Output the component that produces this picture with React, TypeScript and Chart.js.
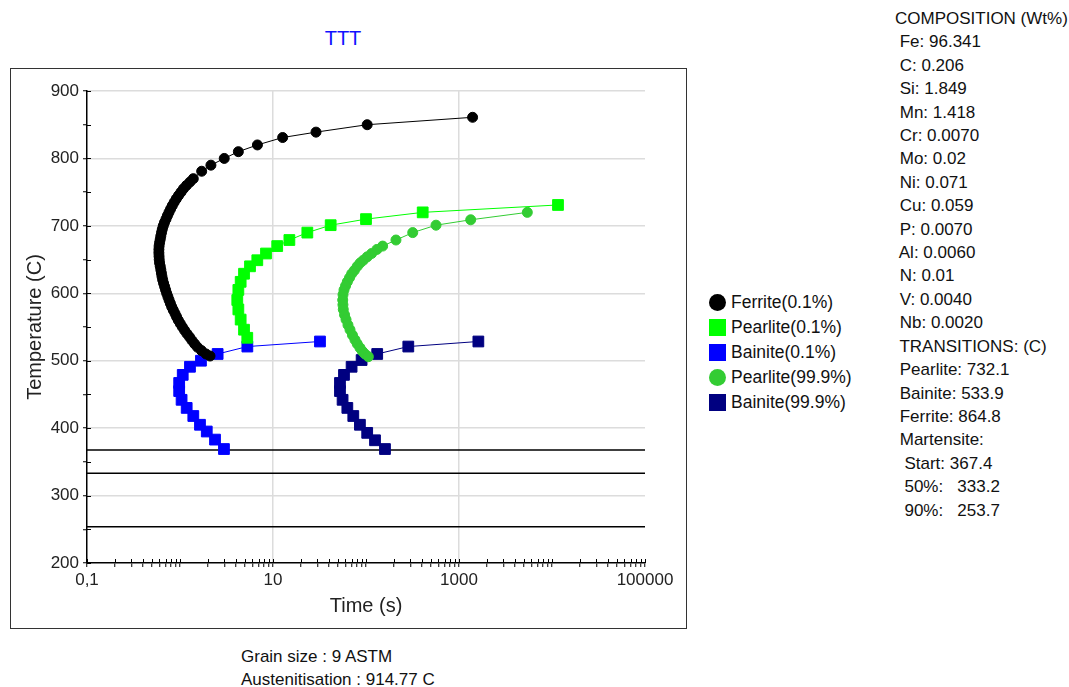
import React, { useEffect, useRef } from 'react';
import { Chart, registerables } from 'chart.js';

Chart.register(...registerables);

// ---------- data ----------
const ferriteTemp = [861, 850, 839, 831, 820, 810, 800, 790, 781, 770, 765, 760, 755, 750, 745, 740, 735, 730, 725, 720, 715, 710, 705, 700, 695, 690, 685, 680, 675, 670, 665, 660, 655, 650, 645, 640, 635, 630, 625, 620, 615, 610, 605, 600, 595, 590, 585, 580, 575, 570, 565, 560, 555, 550, 545, 540, 535, 530, 525, 520, 515, 510, 507];
const ferriteTime = [1400, 103, 29, 12.7, 6.8, 4.24, 2.99, 2.15, 1.71, 1.39, 1.28, 1.175, 1.09, 1.025, 0.964, 0.912, 0.866, 0.826, 0.792, 0.761, 0.732, 0.707, 0.681, 0.661, 0.645, 0.633, 0.622, 0.613, 0.603, 0.596, 0.593, 0.593, 0.595, 0.598, 0.603, 0.613, 0.622, 0.631, 0.64, 0.651, 0.666, 0.683, 0.7, 0.719, 0.741, 0.763, 0.788, 0.814, 0.847, 0.884, 0.919, 0.959, 1.007, 1.061, 1.121, 1.189, 1.268, 1.346, 1.436, 1.543, 1.702, 1.904, 2.102];

const pearliteStartTemp = [731, 720, 710, 701, 690, 679, 670, 659, 649, 640, 629, 617, 605, 590, 576, 561, 546, 534];
const pearliteStartTime = [11600, 407, 100, 41.7, 23.4, 15, 11.1, 8.41, 6.78, 5.66, 4.88, 4.49, 4.24, 4.13, 4.24, 4.49, 4.88, 5.29];

const bainiteStartTemp = [528.5, 521, 510, 500, 491, 479, 467, 455, 442, 430, 418, 405, 395, 383, 369];
const bainiteStartTime = [32, 5.3, 2.54, 1.68, 1.28, 1.07, 0.98, 0.98, 1.04, 1.18, 1.39, 1.64, 1.94, 2.38, 2.97];

const pearliteEndTemp = [720, 709, 701, 690, 679, 670, 665, 659, 654, 649, 645, 640, 634, 629, 623, 617, 611, 605, 598, 590, 583, 576, 568, 561, 553, 546, 538, 531, 525, 519, 514, 510, 506];
const pearliteEndTime = [5425, 1336, 566, 318, 210, 151, 131, 115, 103, 93.5, 86.5, 80.6, 75, 70.2, 66.5, 63, 60.3, 58, 56.6, 56.2, 56.5, 57, 58.8, 61, 64, 67.3, 71.5, 76.1, 80.5, 86.2, 91.5, 97.5, 106];

const bainiteEndTemp = [528.5, 521, 510, 501, 491, 479, 467, 455, 442, 430, 418, 405, 393, 382, 369];
const bainiteEndTime = [1615, 285, 132, 89.7, 70, 58, 52.5, 52.5, 56, 63, 73, 86, 103, 125, 160];

const martensiteTemps = [367.4, 333.2, 253.7];

const seriesNames = ['Ferrite(0.1%)', 'Pearlite(0.1%)', 'Bainite(0.1%)', 'Pearlite(99.9%)', 'Bainite(99.9%)'];
const seriesColors = ['#000000', '#00ff00', '#0000ff', '#33cc33', '#000080'];
const seriesShapes = ['circle', 'rect', 'rect', 'circle', 'rect'];
const seriesTimes = [ferriteTime, pearliteStartTime, bainiteStartTime, pearliteEndTime, bainiteEndTime];
const seriesTemps = [ferriteTemp, pearliteStartTemp, bainiteStartTemp, pearliteEndTemp, bainiteEndTemp];

const xMin = 0.1;
const xMax = 100000;
const yMin = 200;
const yMax = 900;
const xLabelValues = [0.1, 10, 1000, 100000];
const xLabelTexts = ['0,1', '10', '1000', '100000'];
const xGridValues = [10, 1000];

const compositionLines = [
  'COMPOSITION (Wt%)',
  ' Fe: 96.341',
  ' C: 0.206',
  ' Si: 1.849',
  ' Mn: 1.418',
  ' Cr: 0.0070',
  ' Mo: 0.02',
  ' Ni: 0.071',
  ' Cu: 0.059',
  ' P: 0.0070',
  ' Al: 0.0060',
  ' N: 0.01',
  ' V: 0.0040',
  ' Nb: 0.0020',
  ' TRANSITIONS: (C)',
  ' Pearlite: 732.1',
  ' Bainite: 533.9',
  ' Ferrite: 864.8',
  ' Martensite:',
  '  Start: 367.4',
  '  50%:   333.2',
  '  90%:   253.7',
];
const footerLines = ['Grain size : 9 ASTM', 'Austenitisation : 914.77 C'];
const titleText = 'TTT';

// ---------- helpers ----------
const near = (a: number, b: number) => Math.abs(a - b) <= Math.abs(b) * 1e-6 + 1e-12;

function buildXTicks(): number[] {
  const out: number[] = [];
  for (let k = -1; k <= 4; k++) {
    for (let m = 1; m <= 9; m++) out.push(m * Math.pow(10, k));
  }
  out.push(xMax);
  return out;
}
const xTickValues = buildXTicks();

const innerTicks = {
  id: 'innerTicks',
  afterDatasetsDraw(chart: any) {
    const { ctx, chartArea, scales } = chart;
    const x = scales.x;
    const y = scales.y;
    ctx.save();
    ctx.strokeStyle = '#000';
    ctx.lineWidth = 1;
    x.ticks.forEach((t: any) => {
      const px = Math.round(x.getPixelForValue(t.value)) + 0.5;
      ctx.beginPath();
      ctx.moveTo(px, chartArea.bottom);
      ctx.lineTo(px, chartArea.bottom - 4);
      ctx.stroke();
    });
    y.ticks.forEach((t: any) => {
      const py = Math.round(y.getPixelForValue(t.value)) + 0.5;
      ctx.beginPath();
      ctx.moveTo(chartArea.left, py);
      ctx.lineTo(chartArea.left + 4, py);
      ctx.stroke();
    });
    ctx.restore();
  },
};

export default function App() {
  const canvasRef = useRef<HTMLCanvasElement | null>(null);

  useEffect(() => {
    if (!canvasRef.current) return;
    const datasets: any[] = seriesNames.map((name, i) => ({
      label: name,
      data: seriesTimes[i].map((t, j) => ({ x: t, y: seriesTemps[i][j] })),
      showLine: true,
      borderColor: seriesColors[i],
      backgroundColor: seriesColors[i],
      borderWidth: 1,
      pointStyle: seriesShapes[i],
      pointRadius: seriesShapes[i] === 'circle' ? 5 : 7.6,
      pointBorderWidth: 1,
      pointBorderColor: seriesColors[i],
      pointBackgroundColor: seriesColors[i],
      tension: 0,
    }));
    martensiteTemps.forEach((m) => {
      datasets.push({
        label: 'M' + m,
        data: [{ x: xMin, y: m }, { x: xMax, y: m }],
        showLine: true,
        borderColor: '#000',
        borderWidth: 1.5,
        pointRadius: 0,
      });
    });

    const chart = new Chart(canvasRef.current, {
      type: 'scatter',
      data: { datasets },
      plugins: [innerTicks],
      options: {
        animation: false,
        responsive: false,
        devicePixelRatio: 1,
        layout: { padding: { left: 11, top: 91, right: 55, bottom: 12 } },
        plugins: {
          legend: { display: false },
          tooltip: { enabled: false },
        },
        scales: {
          x: {
            type: 'logarithmic',
            min: xMin,
            max: xMax,
            position: 'bottom',
            afterBuildTicks: (s: any) => {
              s.ticks = xTickValues.map((v) => ({ value: v }));
            },
            afterFit: (s: any) => {
              s.height = 65;
            },
            ticks: {
              autoSkip: false,
              maxRotation: 0,
              minRotation: 0,
              padding: 3,
              color: '#222',
              font: { size: 17 },
              callback: (v: any) => {
                const idx = xLabelValues.findIndex((l) => near(Number(v), l));
                return idx >= 0 ? xLabelTexts[idx] : '';
              },
            },
            grid: {
              color: (c: any) => {
                const v = c.tick ? c.tick.value : NaN;
                return xGridValues.some((g) => near(v, g)) ? '#dcdcdc' : 'rgba(0,0,0,0)';
              },
              lineWidth: 1.5,
              drawTicks: true,
              tickLength: 4,
              tickColor: '#000',
              tickWidth: 1,
            },
            border: { color: '#000', width: 1.5 },
            title: {
              display: true,
              text: 'Time (s)',
              color: '#222',
              font: { size: 20 },
              padding: { top: 0, bottom: 10 },
            },
          },
          y: {
            type: 'linear',
            min: yMin,
            max: yMax,
            afterFit: (s: any) => {
              s.width = 76;
            },
            ticks: {
              stepSize: 50,
              padding: 4,
              color: '#222',
              font: { size: 17 },
              callback: (v: any) => (Number(v) % 100 === 0 ? String(v) : ''),
            },
            grid: {
              color: (c: any) => {
                const v = c.tick ? c.tick.value : NaN;
                return v % 100 === 0 && v !== yMin ? '#dcdcdc' : 'rgba(0,0,0,0)';
              },
              lineWidth: 1.5,
              drawTicks: true,
              tickLength: 4,
              tickColor: '#000',
              tickWidth: 1,
            },
            border: { color: '#000', width: 1.5 },
            title: {
              display: true,
              text: 'Temperature (C)',
              color: '#222',
              font: { size: 20 },
              padding: { top: 12, bottom: 0 },
            },
          },
        },
      } as any,
    });
    return () => chart.destroy();
  }, []);

  Chart.defaults.font.family = "'Liberation Sans', Arial, sans-serif";

  const textFont = "'Liberation Sans', Arial, sans-serif";

  return (
    <div
      style={{
        position: 'absolute',
        left: 0,
        top: 0,
        width: 1069,
        height: 687,
        background: '#fff',
        fontFamily: textFont,
        color: '#111',
        overflow: 'hidden',
      }}
    >
      <div
        style={{
          position: 'absolute',
          left: 343,
          top: 26,
          transform: 'translateX(-50%)',
          fontSize: 20,
          lineHeight: '24px',
          color: '#1010ff',
        }}
      >
        {titleText}
      </div>
      <div
        style={{
          position: 'absolute',
          left: 10,
          top: 68,
          width: 675,
          height: 559,
          border: '1px solid #333',
        }}
      />
      <canvas
        ref={canvasRef}
        width={700}
        height={640}
        style={{ position: 'absolute', left: 0, top: 0, width: 700, height: 640 }}
      />
      <div style={{ position: 'absolute', left: 709, top: 290 }}>
        {seriesNames.map((n, i) => (
          <div key={n} style={{ display: 'flex', alignItems: 'center', height: 25 }}>
            <span
              style={{
                display: 'inline-block',
                width: 17,
                height: 17,
                background: seriesColors[i],
                borderRadius: seriesShapes[i] === 'circle' ? '50%' : 0,
              }}
            />
            <span style={{ marginLeft: 5, fontSize: 17.5, whiteSpace: 'pre' }}>{n}</span>
          </div>
        ))}
      </div>
      <div
        style={{
          position: 'absolute',
          left: 895,
          top: 7,
          fontSize: 17,
          lineHeight: '23.4px',
          whiteSpace: 'pre',
        }}
      >
        {compositionLines.map((l) => (
          <div key={l}>{l}</div>
        ))}
      </div>
      <div
        style={{
          position: 'absolute',
          left: 241,
          top: 645,
          fontSize: 17,
          lineHeight: '23px',
          whiteSpace: 'pre',
        }}
      >
        {footerLines.map((l) => (
          <div key={l}>{l}</div>
        ))}
      </div>
    </div>
  );
}
